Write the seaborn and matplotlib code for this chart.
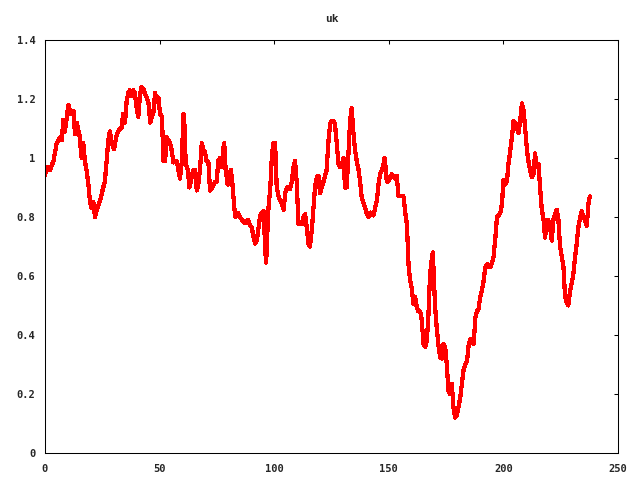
import matplotlib
matplotlib.use('Agg')
import matplotlib.pyplot as plt
import seaborn as sns
import pandas as pd

# sample index and uk value (10 per row)
xs = [0, 0.7, 2.2, 3.7, 5.1, 6.6, 7.3, 8.0, 8.7, 10.2,
      11.2, 12.4, 13.1, 13.8, 15.0, 16.0, 16.7, 17.4, 18.1, 18.8,
      19.6, 20.3, 21.1, 21.8, 22.5, 24.0, 25.4, 26.1, 26.9, 27.6,
      28.3, 29.1, 30.1, 31.3, 32.7, 33.4, 34.1, 34.9, 35.6, 36.3,
      37.0, 37.8, 38.5, 39.2, 40.0, 40.7, 41.4, 42.1, 42.9, 43.6,
      45.1, 45.9, 46.6, 47.3, 48.0, 48.8, 49.5, 50.2, 51.0, 51.7,
      52.1, 52.4, 53.1, 53.9, 54.6, 55.3, 56.0, 56.7, 57.5, 58.2,
      58.9, 59.7, 60.4, 60.8, 61.4, 62.3, 63.0, 64.0, 64.7, 65.5,
      66.2, 66.9, 67.6, 68.4, 69.1, 69.8, 70.5, 71.3, 72.0, 72.7,
      73.4, 74.2, 74.9, 75.6, 76.3, 77.1, 77.8, 78.2, 78.8, 79.7,
      80.2, 81.1, 81.7, 82.6, 83.1, 84.0, 85.0, 86.0, 87.2, 88.7,
      89.5, 90.2, 91.0, 91.7, 92.4, 93.2, 93.9, 94.6, 95.4, 96.1,
      96.5, 97.1, 97.5, 98.3, 99.0, 99.7, 100.4, 101.1, 101.9, 102.6,
      103.3, 104.1, 104.8, 105.5, 106.2, 106.9, 107.7, 108.4, 109.1, 109.8,
      110.6, 111.3, 112.0, 112.8, 113.5, 114.2, 114.9, 115.6, 116.4, 117.1,
      117.8, 118.6, 119.3, 120.0, 120.7, 121.5, 122.2, 122.9, 123.6, 124.4,
      125.1, 125.8, 126.5, 127.3, 128.0, 128.7, 129.4, 130.2, 130.9, 131.6,
      132.3, 133.1, 133.8, 134.5,
      135.3, 136.0, 136.8, 137.5, 138.2, 138.9, 139.7, 140.4, 141.1, 141.9,
      142.6, 143.3, 144.0, 144.8, 145.5, 146.2, 147.0, 147.7, 148.1, 148.6,
      149.1, 149.8, 150.6, 151.3, 152.0, 152.8, 153.5, 154.2, 154.9, 156.4,
      157.1, 157.9, 158.6, 159.3, 160.0, 160.7, 161.5, 162.2, 162.9, 163.7,
      164.4, 165.1, 165.9, 166.6, 167.3, 168.0, 168.8, 169.2, 169.7, 170.2,
      170.9, 171.6, 172.4, 173.1, 173.8, 174.6, 175.3, 176.0, 176.7, 177.5,
      178.2, 178.9, 179.6, 180.4,
      181.2, 181.9, 182.6, 183.4, 184.1, 184.9, 185.6, 186.3, 187.0, 187.8,
      188.5, 189.2, 189.9, 190.7, 191.4, 192.1, 192.9, 193.6, 194.3, 195.0,
      195.7, 196.5, 197.2, 197.9, 198.7, 199.4, 200.0, 200.8, 201.6, 202.2,
      203.0, 203.7, 204.4, 205.2, 205.9, 206.6, 207.3, 208.1, 208.8, 209.5,
      210.3, 210.9, 211.7, 212.4, 213.1, 213.8, 214.6, 215.3, 216.0, 216.7,
      217.5, 218.2, 218.9, 219.6, 220.4, 221.1, 221.8, 222.6, 223.3, 224.0,
      224.7, 225.5, 226.2, 226.9, 227.6, 228.3, 229.1, 229.8, 230.5, 231.3,
      232.0, 232.7, 233.4, 234.2, 234.9, 235.6, 236.4, 237.1, 237.7]

uk = [0.94, 0.97, 0.96, 0.99, 1.05, 1.07, 1.06, 1.13, 1.09, 1.18,
      1.15, 1.16, 1.08, 1.12, 1.08, 1.00, 1.05, 0.99, 0.96, 0.92,
      0.855, 0.83, 0.85, 0.80, 0.82, 0.855, 0.90, 0.92, 0.99, 1.06,
      1.09, 1.05, 1.03, 1.08, 1.10, 1.10, 1.15, 1.12, 1.19, 1.22,
      1.23, 1.21, 1.23, 1.22, 1.17, 1.14, 1.21, 1.24, 1.235, 1.22,
      1.19, 1.12, 1.14, 1.155, 1.22, 1.19, 1.205, 1.15, 1.14, 0.99,
      1.07, 0.99, 1.07, 1.06, 1.05, 1.025, 0.985, 0.99, 0.99, 0.96,
      0.93, 0.99, 1.15, 1.12, 0.98, 0.96, 0.90, 0.935, 0.96, 0.96,
      0.89, 0.91, 0.96, 1.05, 1.025, 1.02, 0.99, 0.985, 0.89, 0.895,
      0.905, 0.92, 0.92, 0.99, 1.00, 0.97, 1.035, 1.05, 0.96, 0.91,
      0.945, 0.96, 0.92, 0.83, 0.80, 0.815, 0.80, 0.79, 0.78, 0.79,
      0.77, 0.765, 0.73, 0.71, 0.72, 0.765, 0.805, 0.815, 0.82, 0.685,
      0.645, 0.765, 0.83, 0.90, 1.01, 1.05, 1.05, 0.90, 0.87, 0.855,
      0.845, 0.825, 0.88, 0.90, 0.90, 0.895, 0.92, 0.97, 0.99, 0.92,
      0.775, 0.775, 0.775, 0.80, 0.81, 0.765, 0.71, 0.70, 0.755, 0.83,
      0.90, 0.935, 0.94, 0.88, 0.90, 0.92, 0.94, 0.96, 1.05, 1.115,
      1.125, 1.125, 1.115, 1.05, 0.98, 0.97, 0.97, 1.00, 0.90, 0.90,
      1.00, 1.125, 1.17, 1.09,
      1.025, 0.99, 0.96, 0.92, 0.865, 0.85, 0.83, 0.81, 0.80, 0.815,
      0.81, 0.805, 0.83, 0.855, 0.91, 0.945, 0.96, 0.98, 1.00, 0.97,
      0.92, 0.92, 0.935, 0.945, 0.935, 0.93, 0.94, 0.87, 0.87, 0.87,
      0.82, 0.775, 0.64, 0.585, 0.56, 0.505, 0.53, 0.495, 0.48, 0.48,
      0.45, 0.37, 0.36, 0.38, 0.47, 0.605, 0.66, 0.68, 0.585, 0.495,
      0.425, 0.37, 0.325, 0.32, 0.37, 0.36, 0.30, 0.21, 0.20, 0.235,
      0.155, 0.12, 0.125, 0.155,
      0.19, 0.235, 0.28, 0.30, 0.31, 0.37, 0.385, 0.385, 0.37, 0.46,
      0.48, 0.49, 0.53, 0.555, 0.585, 0.63, 0.64, 0.63, 0.63, 0.645,
      0.665, 0.73, 0.80, 0.805, 0.815, 0.845, 0.925, 0.91, 0.925, 0.98,
      1.025, 1.07, 1.125, 1.12, 1.10, 1.085, 1.125, 1.185, 1.16, 1.10,
      1.025, 0.99, 0.955, 0.935, 0.945, 1.015, 0.97, 0.98, 0.90, 0.83,
      0.79, 0.73, 0.79, 0.79, 0.765, 0.72, 0.79, 0.81, 0.825, 0.79,
      0.70, 0.665, 0.63, 0.53, 0.51, 0.50, 0.55, 0.575, 0.605, 0.665,
      0.71, 0.765, 0.795, 0.82, 0.80, 0.79, 0.77, 0.845, 0.87]

df = pd.DataFrame({'x': xs, 'uk': uk})

sns.set_style('white')
plt.rcParams['font.family'] = ['DejaVu Sans Mono']

fig = plt.figure(figsize=(6.4, 4.8), dpi=100)
ax = fig.add_axes([45 / 640, 27 / 480, 573 / 640, 413 / 480])
sns.lineplot(data=df, x='x', y='uk', ax=ax, color='#ff0000', linewidth=2.3,
             sort=False, estimator=None, antialiased=False)

ax.set_xlim(0, 250)
ax.set_ylim(0, 1.4)
ax.set_xticks([0, 50, 100, 150, 200, 250])
ax.set_yticks([0, 0.2, 0.4, 0.6, 0.8, 1.0, 1.2, 1.4])
ax.set_yticklabels(['0', '0.2', '0.4', '0.6', '0.8', '1', '1.2', '1.4'])
ax.set_xlabel('')
ax.set_ylabel('')
ax.set_title('uk', fontsize=8, fontweight='bold', pad=13)
ax.tick_params(direction='in', length=3, width=0.75, labelsize=7.5, color='black',
               top=True, right=True)
ax.tick_params(axis='y', pad=7)
ax.tick_params(axis='x', pad=8)
for lab in ax.get_xticklabels() + ax.get_yticklabels():
    lab.set_fontweight('bold')
for s in ax.spines.values():
    s.set_color('black')
    s.set_linewidth(0.75)

fig.savefig('out.png', dpi=100)
